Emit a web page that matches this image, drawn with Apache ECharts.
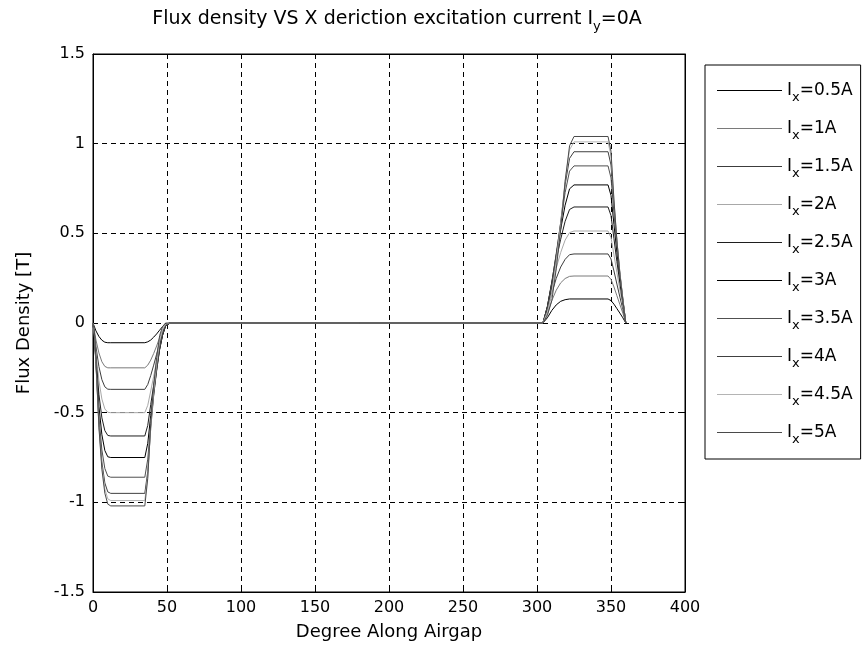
<!DOCTYPE html>
<html>
<head>
<meta charset="utf-8">
<title>Flux density VS X deriction excitation current</title>
<script src="https://cdn.jsdelivr.net/npm/echarts@6/dist/echarts.min.js"></script>
<style>
  html, body { margin: 0; padding: 0; background: #fff; }
  #chart { width: 864px; height: 648px; }
</style>
</head>
<body>
<div id="chart"></div>
<script>
// degree along airgap (shared by every curve)
const degrees = [0, 1, 2, 4, 6, 8, 10, 12, 35, 37, 39, 41, 43, 45, 47, 49, 52, 180,
  304, 307, 310, 313, 316, 319, 322, 325, 348, 350, 352, 354, 356, 358, 360]

const currentNames = ['Ix=0.5A', 'Ix=1A', 'Ix=1.5A', 'Ix=2A', 'Ix=2.5A',
  'Ix=3A', 'Ix=3.5A', 'Ix=4A', 'Ix=4.5A', 'Ix=5A']

// flux density [T]
const b05 = [0, -0.022, -0.044, -0.075, -0.096, -0.107, -0.11, -0.11, -0.11, -0.105, -0.095, -0.079, -0.061, -0.04, -0.02, -0.006, 0, 0,
  0, 0.029, 0.07, 0.101, 0.121, 0.13, 0.134, 0.134, 0.134, 0.125, 0.105, 0.08, 0.055, 0.029, 0]
const b10 = [0, -0.046, -0.095, -0.167, -0.216, -0.242, -0.25, -0.25, -0.25, -0.235, -0.207, -0.17, -0.128, -0.082, -0.041, -0.011, 0, 0,
  0, 0.052, 0.125, 0.183, 0.224, 0.248, 0.26, 0.262, 0.262, 0.243, 0.201, 0.152, 0.103, 0.055, 0]
const b15 = [0, -0.062, -0.132, -0.243, -0.316, -0.356, -0.369, -0.37, -0.37, -0.343, -0.293, -0.235, -0.174, -0.11, -0.053, -0.014, 0, 0,
  0, 0.069, 0.166, 0.249, 0.312, 0.355, 0.381, 0.385, 0.385, 0.357, 0.29, 0.217, 0.145, 0.076, 0]
const b20 = [0, -0.075, -0.167, -0.322, -0.424, -0.479, -0.498, -0.5, -0.5, -0.459, -0.379, -0.297, -0.215, -0.132, -0.064, -0.017, 0, 0,
  0, 0.082, 0.199, 0.306, 0.393, 0.462, 0.504, 0.513, 0.513, 0.476, 0.38, 0.281, 0.185, 0.096, 0]
const b25 = [0, -0.084, -0.196, -0.398, -0.529, -0.6, -0.627, -0.63, -0.63, -0.571, -0.455, -0.347, -0.246, -0.146, -0.069, -0.018, 0, 0,
  0, 0.091, 0.221, 0.353, 0.467, 0.567, 0.633, 0.647, 0.647, 0.599, 0.47, 0.342, 0.222, 0.114, 0]
const b30 = [0, -0.088, -0.217, -0.464, -0.623, -0.711, -0.746, -0.75, -0.75, -0.671, -0.516, -0.382, -0.263, -0.149, -0.068, -0.017, 0, 0,
  0, 0.092, 0.229, 0.38, 0.522, 0.657, 0.748, 0.77, 0.77, 0.711, 0.549, 0.393, 0.252, 0.126, 0]
const b35 = [0, -0.086, -0.23, -0.522, -0.708, -0.811, -0.854, -0.86, -0.86, -0.759, -0.562, -0.402, -0.267, -0.144, -0.063, -0.015, 0, 0,
  0, 0.088, 0.222, 0.388, 0.555, 0.727, 0.847, 0.876, 0.876, 0.809, 0.613, 0.432, 0.272, 0.134, 0]
const b40 = [0, -0.079, -0.232, -0.564, -0.775, -0.892, -0.942, -0.95, -0.95, -0.828, -0.588, -0.403, -0.257, -0.127, -0.053, -0.01, 0, 0,
  0, 0.076, 0.2, 0.374, 0.562, 0.771, 0.918, 0.955, 0.955, 0.881, 0.656, 0.455, 0.28, 0.136, 0]
const b45 = [0, -0.066, -0.22, -0.576, -0.8, -0.925, -0.981, -0.99, -0.99, -0.852, -0.578, -0.378, -0.228, -0.101, -0.038, -0.006, 0, 0,
  0, 0.061, 0.166, 0.344, 0.549, 0.791, 0.966, 1.01, 1.01, 0.93, 0.68, 0.463, 0.28, 0.132, 0]
const b50 = [0, -0.051, -0.204, -0.581, -0.816, -0.949, -1.01, -1.02, -1.02, -0.867, -0.561, -0.347, -0.194, -0.071, -0.02, 0, 0, 0,
  0, 0.042, 0.125, 0.302, 0.52, 0.79, 0.988, 1.04, 1.04, 0.957, 0.686, 0.458, 0.27, 0.125, 0]

const fluxList = [b05, b10, b15, b20, b25, b30, b35, b40, b45, b50]
const lineColors = ['#000000', '#7a7a7a', '#3c3c3c', '#a8a8a8', '#1e1e1e',
  '#000000', '#505050', '#404040', '#b4b4b4', '#4a4a4a']

const font = 'DejaVu Sans'

let myChart = echarts.init(document.getElementById('chart'))

let series = fluxList.map((values, i) => ({
    name: currentNames[i],
    type: 'line',
    symbol: 'none',
    animation: false,
    lineStyle: { width: 1, color: lineColors[i] },
    itemStyle: { color: lineColors[i] },
    data: degrees.map((d, j) => [d, values[j]])
}))

let option = {
    backgroundColor: '#fff',
    title: {
        text: 'Flux density VS X deriction excitation current I{sub|y}=0A',
        left: 392,
        top: 1,
        textAlign: 'center',
        textStyle: {
            fontFamily: font,
            fontSize: 19,
            fontWeight: 'normal',
            color: '#000',
            rich: {
                sub: { fontFamily: font, fontSize: 13, color: '#000', padding: [14, 0, 0, 0] }
            }
        }
    },
    legend: {
        orient: 'vertical',
        left: 705,
        top: 65,
        padding: [12, 8, 13, 12],
        itemGap: 11,
        itemWidth: 65,
        itemHeight: 1,
        itemTextGap: 8,
        icon: 'rect',
        borderColor: '#000',
        borderWidth: 1,
        backgroundColor: '#fff',
        selectedMode: false,
        data: currentNames,
        formatter: name => 'I{sub|x}' + name.slice(2),
        textStyle: {
            fontFamily: font,
            fontSize: 17,
            lineHeight: 21,
            color: '#000',
            rich: {
                sub: { fontFamily: font, fontSize: 13, lineHeight: 7, color: '#000', padding: [14, 0, 0, 0] }
            }
        }
    },
    grid: {
        left: 93,
        right: 179,
        top: 54,
        bottom: 56,
        show: true,
        borderColor: '#000',
        borderWidth: 1
    },
    xAxis: [{
        type: 'value',
        min: 0,
        max: 400,
        interval: 50,
        name: 'Degree Along Airgap',
        nameLocation: 'middle',
        nameGap: 31,
        nameTextStyle: { fontFamily: font, fontSize: 18, color: '#000' },
        axisLine: { onZero: false, lineStyle: { color: '#000' } },
        axisTick: { inside: true, length: 5, lineStyle: { color: '#000' } },
        axisLabel: { fontFamily: font, fontSize: 16, color: '#000', margin: 8 },
        splitLine: { show: true, lineStyle: { color: '#000', type: [5, 4] } }
    }, {
        type: 'value',
        position: 'top',
        min: 0,
        max: 400,
        interval: 50,
        axisLine: { onZero: false, lineStyle: { color: '#000' } },
        axisTick: { inside: true, length: 5, lineStyle: { color: '#000' } },
        axisLabel: { show: false },
        splitLine: { show: false }
    }],
    yAxis: [{
        type: 'value',
        min: -1.5,
        max: 1.5,
        interval: 0.5,
        name: 'Flux Density [T]',
        nameLocation: 'middle',
        nameGap: 60,
        nameTextStyle: { fontFamily: font, fontSize: 18, color: '#000' },
        axisLine: { onZero: false, lineStyle: { color: '#000' } },
        axisTick: { inside: true, length: 5, lineStyle: { color: '#000' } },
        axisLabel: { fontFamily: font, fontSize: 16, color: '#000', margin: 8 },
        splitLine: { show: true, lineStyle: { color: '#000', type: [5, 4] } }
    }, {
        type: 'value',
        position: 'right',
        min: -1.5,
        max: 1.5,
        interval: 0.5,
        axisLine: { onZero: false, lineStyle: { color: '#000' } },
        axisTick: { inside: true, length: 5, lineStyle: { color: '#000' } },
        axisLabel: { show: false },
        splitLine: { show: false }
    }],
    series: series
}

myChart.setOption(option)
</script>
</body>
</html>
